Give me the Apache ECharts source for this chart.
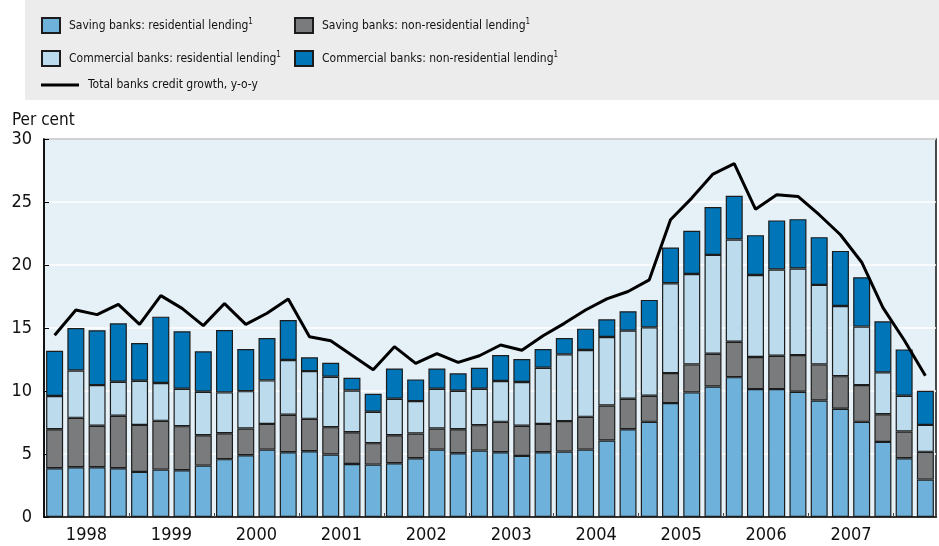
<!DOCTYPE html>
<html>
<head>
<meta charset="utf-8">
<script src="https://cdn.jsdelivr.net/npm/echarts@6/dist/echarts.min.js"></script>
<style>
html,body{margin:0;padding:0;background:#fff;}
#mainchart{width:939px;height:546px;}
</style>
</head>
<body>
<div id="mainchart"></div>
<script>
var quarters=[];
var years=['1998','1999','2000','2001','2002','2003','2004','2005','2006','2007'];
for(var y=1998;y<=2008;y++){
    for(var q=1;q<=4;q++){
        if(quarters.length<42) quarters.push(y+'Q'+q);
    }
}

// 储蓄银行 住房贷款
var savingRes=[3.87,3.95,3.95,3.87,3.58,3.76,3.71,4.08,4.59,4.9,5.35,5.14,5.22,4.96,4.21,4.16,4.27,4.66,5.35,5.06,5.27,5.14,4.85,5.14,5.19,5.35,6.07,6.97,7.55,9.04,9.89,10.36,11.1,10.15,10.15,9.94,9.25,8.59,7.55,5.96,4.66,2.97];
var savingNonRes=[3.1,3.92,3.29,4.16,3.73,3.87,3.5,2.41,2.06,2.12,2.04,2.97,2.57,2.17,2.52,1.7,2.22,1.97,1.67,1.91,2.02,2.41,2.39,2.25,2.42,2.6,2.78,2.41,2.07,2.38,2.22,2.6,2.81,2.55,2.65,2.91,2.86,2.59,2.92,2.2,2.12,2.2];
var commRes=[2.63,3.76,3.23,2.7,3.5,3.0,2.97,3.45,3.24,2.97,3.45,4.35,3.79,4.0,3.31,2.49,2.89,2.57,3.16,3.05,2.89,3.24,3.47,4.46,5.3,5.3,5.44,5.41,5.43,7.13,7.18,7.84,8.11,6.51,6.84,6.87,6.31,5.57,4.64,3.32,2.84,2.14];
var commNonRes=[3.6,3.37,4.35,4.64,3.0,5.27,4.56,3.21,4.95,3.34,3.36,3.18,1.09,1.11,1.01,1.43,2.41,1.72,1.61,1.38,1.67,2.06,1.83,1.48,1.29,1.7,1.4,1.54,2.18,2.84,3.42,3.8,3.48,3.16,3.9,3.92,3.79,4.37,3.92,4.05,3.68,2.71];
var totalGrowth=[14.42,16.43,16.06,16.88,15.29,17.57,16.56,15.19,16.94,15.29,16.17,17.31,14.31,13.99,12.83,11.69,13.52,12.19,12.96,12.27,12.8,13.65,13.23,14.39,15.37,16.43,17.31,17.9,18.82,23.59,25.31,27.22,28.04,24.43,25.57,25.44,23.99,22.4,20.22,16.62,14.05,11.21];

var names=['Saving banks: residential lending','Saving banks: non-residential lending','Commercial banks: residential lending','Commercial banks: non-residential lending','Total banks credit growth, y-o-y'];
var colors=['#6eb1da','#7a7b7d','#bcdcee','#0075b8'];

// 年份标签位置（两个季度之间）和年份分隔刻度
var yearLabelPos=[],yearTickPos=[];
for(var i=0;i<years.length;i++){
    yearLabelPos.push(i*4+2);
    yearTickPos.push(i*4+4);
}

var fontFam="'Liberation Sans Narrow','DejaVu Sans Condensed',sans-serif";
var legendText={
    fontFamily:fontFam,fontSize:12,color:'#111',padding:[0,0,0,4],
    rich:{
        s:{fontFamily:fontFam,fontSize:8,color:'#111',padding:[0,0,8,0]}
    }
};
var legendFmt=function(name){
    if(name==names[4]) return name;
    return name+'{s|1}';
};

var series=[];
for(var k=0;k<4;k++){
    series.push({
        name:names[k],
        type:'bar',
        stack:'total',
        barCategoryGap:'20%',
        itemStyle:{color:colors[k],borderColor:'#1c1c1c',borderWidth:1.2},
        data:[savingRes,savingNonRes,commRes,commNonRes][k]
    });
}
series.push({
    name:names[4],
    type:'line',
    showSymbol:false,
    symbol:'none',
    lineStyle:{color:'#000',width:3},
    itemStyle:{color:'#000'},
    z:10,
    data:totalGrowth
});

var myChart=echarts.init(document.getElementById('mainchart'));
var option={
    animation:false,
    graphic:[
        {type:'rect',left:25,top:0,shape:{width:914,height:100},style:{fill:'#ececec'},z:-1},
        {type:'text',left:12,top:112,style:{text:'Per cent',font:'17px '+fontFam,fill:'#111'}}
    ],
    legend:[
        {left:41,top:17,padding:0,orient:'vertical',icon:'rect',itemWidth:18,itemHeight:15,itemGap:16,
         textStyle:legendText,formatter:legendFmt,
         data:[names[0],names[2]]},
        {left:294,top:17,padding:0,orient:'vertical',icon:'rect',itemWidth:18,itemHeight:15,itemGap:16,
         textStyle:legendText,formatter:legendFmt,
         data:[names[1],names[3]]},
        {left:41,top:79,padding:0,itemWidth:38,itemHeight:3,
         textStyle:{fontFamily:fontFam,fontSize:12,color:'#111',padding:[0,0,0,4]},
         data:[{name:names[4],icon:'rect'}]}
    ],
    grid:{left:44,right:3,top:139,bottom:29,show:true,backgroundColor:'#e5f0f7',borderColor:'#111',borderWidth:1.5},
    xAxis:[
        {type:'category',data:quarters,
         axisLine:{lineStyle:{color:'#000',width:1.5}},
         axisTick:{show:false},axisLabel:{show:false}},
        {type:'value',min:0,max:42,position:'bottom',
         axisLine:{show:false},splitLine:{show:false},
         axisTick:{show:true,inside:true,length:4,customValues:yearTickPos,lineStyle:{color:'#444'}},
         axisLabel:{customValues:yearLabelPos,margin:9,fontFamily:fontFam,fontSize:18,color:'#111',
            formatter:function(v){return years[(v-2)/4];}}}
    ],
    yAxis:{type:'value',min:0,max:30,interval:5,
        axisLine:{show:true,lineStyle:{color:'#000',width:1.5}},
        axisTick:{show:true,inside:true,length:5,lineStyle:{color:'#000'}},
        axisLabel:{fontFamily:fontFam,fontSize:18,color:'#111',margin:12},
        splitLine:{lineStyle:{color:'#fff',width:1.5}}},
    series:series
};
myChart.setOption(option);
</script>
</body>
</html>
